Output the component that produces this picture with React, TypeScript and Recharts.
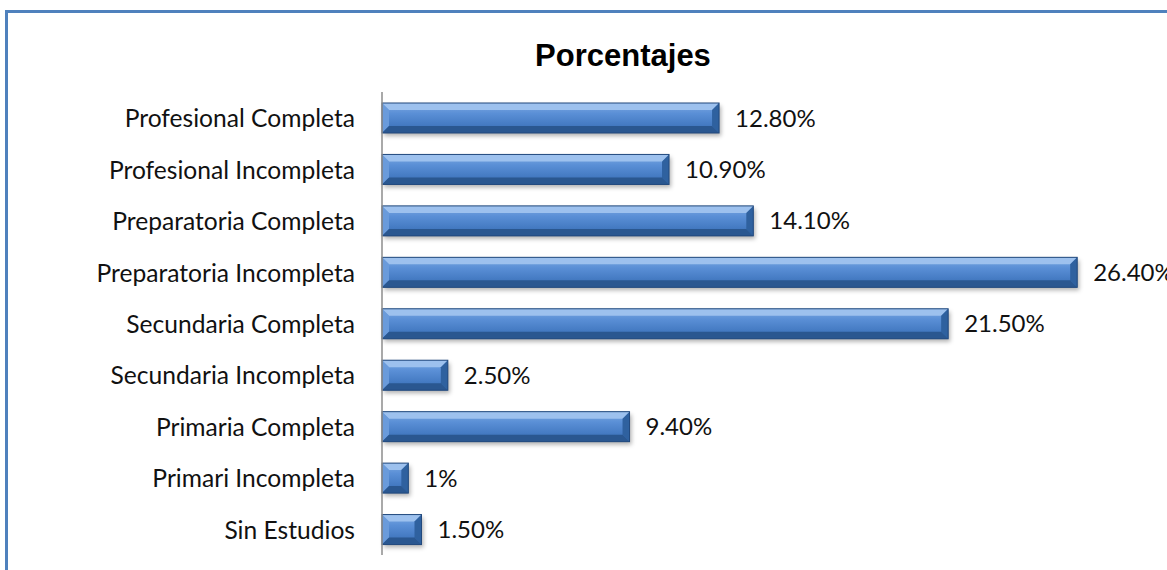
import { Bar, BarChart, LabelList, XAxis, YAxis } from "recharts";

const CATEGORIES = [
  "Profesional Completa",
  "Profesional Incompleta",
  "Preparatoria Completa",
  "Preparatoria Incompleta",
  "Secundaria Completa",
  "Secundaria Incompleta",
  "Primaria Completa",
  "Primari Incompleta",
  "Sin Estudios",
];
const VALUES = [12.8, 10.9, 14.1, 26.4, 21.5, 2.5, 9.4, 1, 1.5];
const VALUE_LABELS = ["12.80%", "10.90%", "14.10%", "26.40%", "21.50%", "2.50%", "9.40%", "1%", "1.50%"];
const TITLE = "Porcentajes";

const FRAME_BLUE = "#4F81BD";
const TEXT_FONT = "Lato, 'Open Sans', sans-serif";

const data = CATEGORIES.map((name, i) => ({ name, value: VALUES[i], label: VALUE_LABELS[i] }));

function BevelBar(props: any) {
  const { x, y, width, height, index } = props;
  if (!width || width <= 0) return null;
  const b = Math.min(7, width / 2, height / 2);
  const gid = `barGrad${index}`;
  const fid = `barShadow${index}`;
  const r = x + width;
  const btm = y + height;
  return (
    <g>
      <defs>
        <linearGradient id={gid} x1="0" y1="0" x2="0" y2="1">
          <stop offset="0%" stopColor="#7EAAE2" />
          <stop offset="35%" stopColor="#5A8FD6" />
          <stop offset="70%" stopColor="#467CC4" />
          <stop offset="100%" stopColor="#356AAE" />
        </linearGradient>
        <filter id={fid} x="-20%" y="-40%" width="140%" height="180%">
          <feGaussianBlur stdDeviation="2" />
        </filter>
      </defs>
      <rect x={x + 2} y={y + 3} width={width} height={height} fill="rgba(0,0,0,0.3)" filter={`url(#${fid})`} />
      <rect x={x} y={y} width={width} height={height} fill={`url(#${gid})`} />
      <polygon points={`${x},${y} ${r},${y} ${r - b},${y + b} ${x + b},${y + b}`} fill="#9DC1EE" />
      <polygon points={`${x},${y} ${x + b},${y + b} ${x + b},${btm - b} ${x},${btm}`} fill="#6A9BDB" />
      <polygon points={`${r},${y} ${r - b},${y + b} ${r - b},${btm - b} ${r},${btm}`} fill="#2F619F" />
      <polygon points={`${x},${btm} ${x + b},${btm - b} ${r - b},${btm - b} ${r},${btm}`} fill="#2A5790" />
      <rect x={x} y={y} width={width} height={height} fill="none" stroke="#22497D" strokeWidth={1} />
    </g>
  );
}

function CategoryTick(props: any) {
  const { x, y, payload } = props;
  return (
    <text x={x - 19} y={y} textAnchor="end" dominantBaseline="central" fontFamily={TEXT_FONT} fontSize={24.6} fill="#111">
      {payload.value}
    </text>
  );
}

export default function App() {
  return (
    <div style={{ position: "absolute", left: 0, top: 0, width: 1167, height: 570, overflow: "hidden", background: "#fff" }}>
      <div
        style={{
          position: "absolute",
          left: 5,
          top: 10,
          width: 1200,
          height: 600,
          borderLeft: `3px solid ${FRAME_BLUE}`,
          borderTop: `3px solid ${FRAME_BLUE}`,
        }}
      />
      <div
        style={{
          position: "absolute",
          left: 0,
          top: 40,
          width: 1246,
          textAlign: "center",
          fontFamily: "'Liberation Sans', Arial, sans-serif",
          fontWeight: 700,
          fontSize: 31,
          lineHeight: "31px",
          color: "#000",
        }}
      >
        {TITLE}
      </div>
      <div style={{ position: "absolute", left: 0, top: 0 }}>
        <BarChart
          width={1167}
          height={570}
          data={data}
          layout="vertical"
          margin={{ top: 92, right: -5, bottom: 15, left: 0 }}
        >
          <XAxis type="number" hide domain={[0, 30]} />
          <YAxis
            type="category"
            dataKey="name"
            width={382}
            axisLine={{ stroke: "#8C8C8C", strokeWidth: 1.5 }}
            tickLine={false}
            tick={<CategoryTick />}
          />
          <Bar dataKey="value" barSize={30} shape={<BevelBar />} isAnimationActive={false}>
            <LabelList
              dataKey="label"
              position="right"
              offset={16}
              fill="#111"
              fontSize={24}
              fontFamily={TEXT_FONT}
            />
          </Bar>
        </BarChart>
      </div>
    </div>
  );
}
